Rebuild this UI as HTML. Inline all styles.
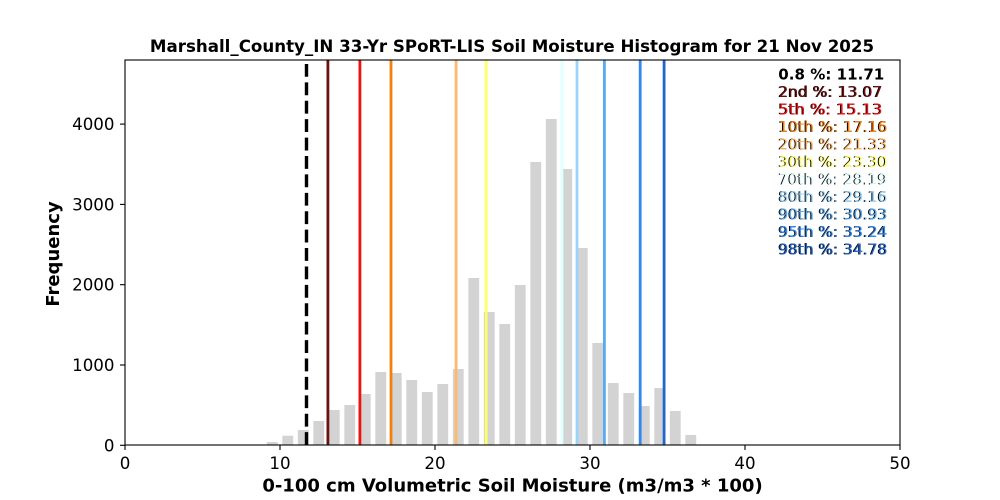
<!DOCTYPE html>
<html>
<head>
<meta charset="utf-8">
<style>
html,body{margin:0;padding:0;background:#fff;}
svg{display:block;}
text{font-family:"DejaVu Sans","Liberation Sans",sans-serif;}
</style>
</head>
<body>
<svg width="1000" height="500" viewBox="0 0 1000 500" xmlns="http://www.w3.org/2000/svg">
<rect x="0" y="0" width="1000" height="500" fill="#fff"/>
<!-- bars -->
<g fill="#d3d3d3">
<rect x="266.83" y="442" width="10.85" height="3"/>
<rect x="282.33" y="435.7" width="10.85" height="9.3"/>
<rect x="297.83" y="430" width="10.85" height="15"/>
<rect x="313.33" y="421" width="10.85" height="24"/>
<rect x="328.83" y="410" width="10.85" height="35"/>
<rect x="344.33" y="405" width="10.85" height="40"/>
<rect x="359.83" y="394" width="10.85" height="51"/>
<rect x="375.33" y="372" width="10.85" height="73"/>
<rect x="390.83" y="373" width="10.85" height="72"/>
<rect x="406.33" y="380" width="10.85" height="65"/>
<rect x="421.83" y="392" width="10.85" height="53"/>
<rect x="437.33" y="384" width="10.85" height="61"/>
<rect x="452.83" y="369" width="10.85" height="76"/>
<rect x="468.33" y="278" width="10.85" height="167"/>
<rect x="483.83" y="312" width="10.85" height="133"/>
<rect x="499.33" y="324" width="10.85" height="121"/>
<rect x="514.83" y="285" width="10.85" height="160"/>
<rect x="530.33" y="162" width="10.85" height="283"/>
<rect x="545.83" y="119" width="10.85" height="326"/>
<rect x="561.33" y="169" width="10.85" height="276"/>
<rect x="576.83" y="248" width="10.85" height="197"/>
<rect x="592.33" y="343" width="10.85" height="102"/>
<rect x="607.83" y="383" width="10.85" height="62"/>
<rect x="623.33" y="393" width="10.85" height="52"/>
<rect x="638.83" y="406" width="10.85" height="39"/>
<rect x="654.33" y="388" width="10.85" height="57"/>
<rect x="669.83" y="411" width="10.85" height="34"/>
<rect x="685.33" y="435" width="10.85" height="10"/>
</g>
<!-- percentile lines -->
<line x1="306.5" y1="445" x2="306.5" y2="60" stroke="#000" stroke-width="3.4" stroke-dasharray="12.85 5.56"/>
<g stroke-width="2.8">
<line x1="327.9" y1="445" x2="327.9" y2="60" stroke="#6e1010"/>
<line x1="359.9" y1="445" x2="359.9" y2="60" stroke="#ee1111"/>
<line x1="391.0" y1="445" x2="391.0" y2="60" stroke="#f2800f"/>
<line x1="456.1" y1="445" x2="456.1" y2="60" stroke="#ffb870"/>
<line x1="486.2" y1="445" x2="486.2" y2="60" stroke="#ffff66"/>
<line x1="562.0" y1="445" x2="562.0" y2="60" stroke="#e0ffff"/>
<line x1="577.0" y1="445" x2="577.0" y2="60" stroke="#9ad4fa"/>
<line x1="604.4" y1="445" x2="604.4" y2="60" stroke="#5aaaf0"/>
<line x1="640.2" y1="445" x2="640.2" y2="60" stroke="#3388ee"/>
<line x1="664.1" y1="445" x2="664.1" y2="60" stroke="#2266cc"/>
</g>
<!-- axes box -->
<rect x="125" y="60" width="775" height="385" fill="none" stroke="#000" stroke-width="1.1"/>
<!-- ticks -->
<g stroke="#000" stroke-width="1.1">
<line x1="125" y1="445" x2="125" y2="450"/>
<line x1="280" y1="445" x2="280" y2="450"/>
<line x1="435" y1="445" x2="435" y2="450"/>
<line x1="590" y1="445" x2="590" y2="450"/>
<line x1="745" y1="445" x2="745" y2="450"/>
<line x1="900" y1="445" x2="900" y2="450"/>
<line x1="120" y1="445.3" x2="125" y2="445.3"/>
<line x1="120" y1="365" x2="125" y2="365"/>
<line x1="120" y1="284.7" x2="125" y2="284.7"/>
<line x1="120" y1="204.4" x2="125" y2="204.4"/>
<line x1="120" y1="124.1" x2="125" y2="124.1"/>
</g>
<text x="125" y="469" text-anchor="middle" fill="#000" style="font-size:16.67px" textLength="10.6" lengthAdjust="spacingAndGlyphs">0</text>
<text x="280" y="469" text-anchor="middle" fill="#000" style="font-size:16.67px" textLength="21.2" lengthAdjust="spacingAndGlyphs">10</text>
<text x="435" y="469" text-anchor="middle" fill="#000" style="font-size:16.67px" textLength="21.2" lengthAdjust="spacingAndGlyphs">20</text>
<text x="590" y="469" text-anchor="middle" fill="#000" style="font-size:16.67px" textLength="21.2" lengthAdjust="spacingAndGlyphs">30</text>
<text x="745" y="469" text-anchor="middle" fill="#000" style="font-size:16.67px" textLength="21.2" lengthAdjust="spacingAndGlyphs">40</text>
<text x="900" y="469" text-anchor="middle" fill="#000" style="font-size:16.67px" textLength="21.2" lengthAdjust="spacingAndGlyphs">50</text>

<text x="114.5" y="451.3" text-anchor="end" fill="#000" style="font-size:16.67px" textLength="10.6" lengthAdjust="spacingAndGlyphs">0</text>
<text x="114.5" y="371" text-anchor="end" fill="#000" style="font-size:16.67px" textLength="42.4" lengthAdjust="spacingAndGlyphs">1000</text>
<text x="114.5" y="290.7" text-anchor="end" fill="#000" style="font-size:16.67px" textLength="42.4" lengthAdjust="spacingAndGlyphs">2000</text>
<text x="114.5" y="210.4" text-anchor="end" fill="#000" style="font-size:16.67px" textLength="42.4" lengthAdjust="spacingAndGlyphs">3000</text>
<text x="114.5" y="130.1" text-anchor="end" fill="#000" style="font-size:16.67px" textLength="42.4" lengthAdjust="spacingAndGlyphs">4000</text>
<!-- labels -->
<text x="512" y="52" style="font-size:16.67px;font-weight:bold" text-anchor="middle" fill="#000">Marshall_County_IN 33-Yr SPoRT-LIS Soil Moisture Histogram for 21 Nov 2025</text>
<text x="512.5" y="491.7" style="font-size:18px;font-weight:bold" text-anchor="middle" fill="#000">0-100 cm Volumetric Soil Moisture (m3/m3 * 100)</text>
<text transform="translate(59,254) rotate(-90)" x="0" y="0" style="font-size:18px;font-weight:bold" text-anchor="middle" fill="#000">Frequency</text>
<!-- legend text -->
<text x="778.3" y="79.5" fill="#000" style="font-size:15.4px;font-weight:bold" textLength="106" lengthAdjust="spacingAndGlyphs">0.8 %: 11.71</text>

<text x="777.6" y="97" fill="#000" style="font-size:15.4px" textLength="104" lengthAdjust="spacingAndGlyphs">2nd %: 13.07</text>
<text x="778.6" y="97" fill="#6e1010" style="font-size:15.4px" textLength="104" lengthAdjust="spacingAndGlyphs">2nd %: 13.07</text>

<text x="777.6" y="114.5" fill="#000" style="font-size:15.4px" textLength="104" lengthAdjust="spacingAndGlyphs">5th %: 15.13</text>
<text x="778.6" y="114.5" fill="#ee1111" style="font-size:15.4px" textLength="104" lengthAdjust="spacingAndGlyphs">5th %: 15.13</text>

<text x="777.6" y="132" fill="#000" style="font-size:15.4px" textLength="109" lengthAdjust="spacingAndGlyphs">10th %: 17.16</text>
<text x="778.6" y="132" fill="#f2800f" style="font-size:15.4px" textLength="109" lengthAdjust="spacingAndGlyphs">10th %: 17.16</text>

<text x="777.6" y="149.5" fill="#000" style="font-size:15.4px" textLength="109" lengthAdjust="spacingAndGlyphs">20th %: 21.33</text>
<text x="778.6" y="149.5" fill="#ffb870" style="font-size:15.4px" textLength="109" lengthAdjust="spacingAndGlyphs">20th %: 21.33</text>

<text x="777.6" y="167" fill="#000" style="font-size:15.4px" textLength="109" lengthAdjust="spacingAndGlyphs">30th %: 23.30</text>
<text x="778.6" y="167" fill="#ffff66" style="font-size:15.4px" textLength="109" lengthAdjust="spacingAndGlyphs">30th %: 23.30</text>

<text x="777.6" y="184.4" fill="#000" style="font-size:15.4px" textLength="109" lengthAdjust="spacingAndGlyphs">70th %: 28.19</text>
<text x="778.6" y="184.4" fill="#e0ffff" style="font-size:15.4px" textLength="109" lengthAdjust="spacingAndGlyphs">70th %: 28.19</text>

<text x="777.6" y="201.9" fill="#000" style="font-size:15.4px" textLength="109" lengthAdjust="spacingAndGlyphs">80th %: 29.16</text>
<text x="778.6" y="201.9" fill="#9ad4fa" style="font-size:15.4px" textLength="109" lengthAdjust="spacingAndGlyphs">80th %: 29.16</text>

<text x="777.6" y="219.4" fill="#000" style="font-size:15.4px" textLength="109" lengthAdjust="spacingAndGlyphs">90th %: 30.93</text>
<text x="778.6" y="219.4" fill="#5aaaf0" style="font-size:15.4px" textLength="109" lengthAdjust="spacingAndGlyphs">90th %: 30.93</text>

<text x="777.6" y="236.9" fill="#000" style="font-size:15.4px" textLength="109" lengthAdjust="spacingAndGlyphs">95th %: 33.24</text>
<text x="778.6" y="236.9" fill="#3388ee" style="font-size:15.4px" textLength="109" lengthAdjust="spacingAndGlyphs">95th %: 33.24</text>

<text x="777.6" y="254.3" fill="#000" style="font-size:15.4px" textLength="109" lengthAdjust="spacingAndGlyphs">98th %: 34.78</text>
<text x="778.6" y="254.3" fill="#2266cc" style="font-size:15.4px" textLength="109" lengthAdjust="spacingAndGlyphs">98th %: 34.78</text>
</svg>
</body>
</html>
